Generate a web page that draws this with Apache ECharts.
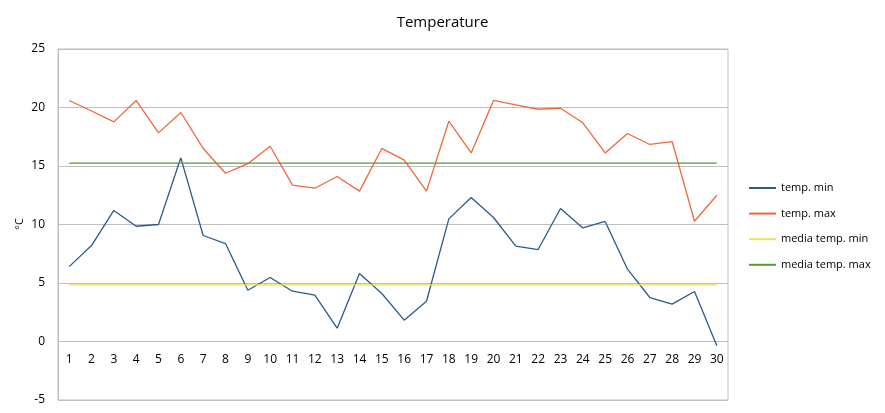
<!DOCTYPE html>
<html>
<head>
<meta charset="utf-8">
<script src="https://cdn.jsdelivr.net/npm/echarts@6/dist/echarts.min.js"></script>
<style>html,body{margin:0;padding:0;background:#fff}#c{width:885px;height:413px}</style>
</head>
<body>
<div id="c"></div>
<script>
const days = ['1','2','3','4','5','6','7','8','9','10','11','12','13','14','15','16','17','18','19','20','21','22','23','24','25','26','27','28','29','30'];
const tempMin = [6.4,8.2,11.2,9.85,10.0,15.7,9.06,8.37,4.38,5.47,4.3,3.96,1.14,5.81,4.1,1.82,3.44,10.48,12.3,10.6,8.15,7.86,11.37,9.71,10.26,6.18,3.76,3.19,4.27,-0.37];
const tempMax = [20.6,19.7,18.77,20.6,17.83,19.57,16.5,14.38,15.2,16.69,13.36,13.1,14.1,12.85,16.5,15.5,12.85,18.83,16.12,20.6,20.22,19.85,19.94,18.69,16.12,17.78,16.84,17.09,10.28,12.5];
const mediaMinValue = 4.84;
const mediaMaxValue = 15.24;
const mediaMin = days.map(() => mediaMinValue);
const mediaMax = days.map(() => mediaMaxValue);
const yTicks = [-5, 0, 5, 10, 15, 20, 25];
const yName = '°C';

const font = '"Open Sans", "Noto Sans", sans-serif';
const chart = echarts.init(document.getElementById('c'), null, {renderer: 'canvas'});
const mk = (name, data, color) => ({
  name, type: 'line', data, symbol: 'none', silent: true,
  lineStyle: {color, width: 1.3}, itemStyle: {color}, animation: false
});
const plotH = 413 - 49 - 13;
const zeroOffset = plotH * (0 - yTicks[0]) / (yTicks[yTicks.length-1] - yTicks[0]);
chart.setOption({
  animation: false,
  textStyle: {fontFamily: font},
  title: {text: 'Temperature', left: 'center', top: 10,
    textStyle: {fontSize: 15, fontWeight: 'normal', color: '#000', fontFamily: font}},
  grid: {left: 58, right: 157, top: 49, bottom: 13, show: true, borderColor: '#bfbfbf', borderWidth: 1},
  graphic: [{
    type: 'text', x: 20, y: 224, rotation: Math.PI / 2, silent: true,
    style: {text: yName, fill: '#000', font: '11px ' + font, align: 'center', verticalAlign: 'middle'}
  }],
  legend: {
    orient: 'vertical', left: 748, top: 182, padding: 0, itemWidth: 27, itemHeight: 12, itemGap: 13.6,
    itemStyle: {opacity: 0},
    textStyle: {fontSize: 11, color: '#000', fontFamily: font, lineHeight: 12},
    data: ['temp. min','temp. max','media temp. min','media temp. max']
  },
  xAxis: {
    type: 'category', data: days, boundaryGap: true, position: 'bottom',
    offset: -zeroOffset,
    axisLine: {show: false, onZero: false},
    axisTick: {show: false},
    axisLabel: {color: '#000', fontSize: 12, margin: 12, interval: 0}
  },
  yAxis: {
    type: 'value', min: yTicks[0], max: yTicks[yTicks.length-1], interval: 5,
    axisLine: {show: true, lineStyle: {color: '#bfbfbf'}},
    axisTick: {show: false},
    axisLabel: {color: '#000', fontSize: 12, margin: 13},
    splitLine: {lineStyle: {color: '#bfbfbf'}}
  },
  series: [
    mk('temp. min', tempMin, '#2b5b8c'),
    mk('temp. max', tempMax, '#f0683a'),
    mk('media temp. min', mediaMin, '#ede056'),
    mk('media temp. max', mediaMax, '#5a9a33')
  ]
});
</script>
</body>
</html>
